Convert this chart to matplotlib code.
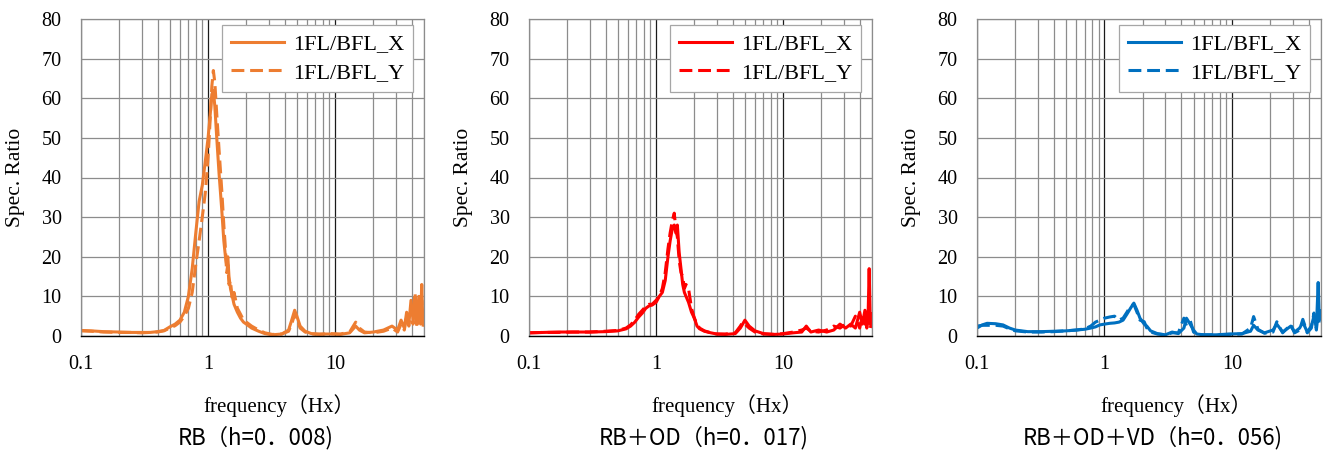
import matplotlib
matplotlib.use("Agg")
import matplotlib.pyplot as plt
from matplotlib.ticker import FixedLocator, NullFormatter

# --- datos ---
freq_rb = [0.10, 0.12, 0.15, 0.20, 0.25, 0.30, 0.35, 0.40, 0.45,
           0.50, 0.55, 0.60, 0.65, 0.70, 0.75, 0.80, 0.85, 0.90, 0.95,
           1.00, 1.04, 1.07, 1.10, 1.13, 1.17, 1.22, 1.28, 1.33, 1.37,
           1.40, 1.43, 1.46, 1.50, 1.55, 1.60, 1.70, 1.80, 1.90, 2.00,
           2.20, 2.50, 2.80, 3.20, 3.80, 4.30, 4.60, 4.80, 5.00, 5.30,
           5.80, 6.50, 7.50, 9.0, 11, 13, 14.5, 15.5, 17, 20,
           24, 28, 31, 33, 35, 36.5, 38, 39.5, 41, 42.5,
           44, 45.5, 47, 48, 49, 50]
rb_x = [1.4, 1.3, 1.1, 1.0, 0.9, 0.9, 0.9, 1.1, 1.4,
        2.3, 3.0, 4.0, 6.0, 10, 17, 26, 34, 38, 44,
        50, 56, 61, 62, 58, 50, 41, 32, 24, 20,
        18, 20, 15, 12, 10, 8, 6, 4.5, 3.5, 3.0,
        2.0, 1.2, 0.6, 0.3, 0.5, 1.5, 4.5, 6.5, 5.0, 2.5,
        1.2, 0.6, 0.5, 0.5, 0.4, 0.8, 2.5, 1.5, 0.8, 1.0,
        1.5, 2.5, 1.5, 4.0, 2.0, 6.0, 3.0, 9.0, 4.0, 8.0,
        3.0, 10, 4.0, 13, 3.0, 5.0]
rb_y = [1.3, 1.2, 1.0, 0.9, 0.9, 0.8, 0.9, 1.0, 1.3,
        2.0, 2.6, 3.5, 5.0, 7.0, 11, 18, 24, 30, 36,
        45, 55, 63, 67, 64, 56, 47, 37, 28, 22,
        16, 18, 13, 14, 9, 11, 7, 5.5, 4.0, 3.5,
        2.5, 1.5, 0.8, 0.4, 0.5, 1.2, 3.5, 5.5, 4.0, 2.0,
        1.0, 0.5, 0.4, 0.6, 0.5, 1.0, 3.5, 2.0, 1.0, 0.8,
        1.2, 2.0, 1.0, 3.0, 1.5, 5.0, 2.5, 7.0, 3.0, 11,
        2.0, 8.0, 3.0, 9.0, 2.0, 4.0]

freq_od = [0.10, 0.13, 0.17, 0.22, 0.30, 0.40, 0.50, 0.58, 0.63, 0.68,
           0.73, 0.78, 0.83, 0.88, 0.93, 1.00, 1.06, 1.12, 1.18, 1.24,
           1.29, 1.34, 1.39, 1.43, 1.47, 1.52, 1.57, 1.62, 1.67, 1.72,
           1.80, 1.90, 2.00, 2.10, 2.20, 2.40, 2.70, 3.00, 3.50, 4.20,
           4.60, 4.80, 5.00, 5.40, 6.00, 7.00, 8.5, 10, 12, 14,
           15.2, 16.5, 19, 22, 25, 28, 31, 34, 37, 40,
           42, 44, 45.5, 46.5, 47.5, 48.5, 50]
od_x = [0.8, 0.9, 1.0, 1.0, 1.0, 1.1, 1.3, 1.8, 2.5, 3.5,
        4.8, 5.8, 7.0, 7.6, 7.8, 8.5, 10, 11, 14, 20,
        24, 27, 28, 26, 28, 21, 17, 13, 11, 10,
        8.5, 6, 4.5, 2.5, 1.8, 1.2, 0.8, 0.5, 0.4, 0.6,
        2.0, 3.0, 4.0, 2.5, 1.3, 0.6, 0.4, 0.5, 0.8, 1.0,
        2.5, 1.0, 1.5, 1.0, 1.5, 3.0, 2.0, 3.0, 2.0, 6.0,
        3.0, 6.5, 2.0, 4.0, 17, 3.0, 5.5]
od_y = [0.8, 0.9, 0.9, 1.0, 1.0, 1.2, 1.4, 2.0, 2.8, 4.0,
        5.5, 6.5, 7.5, 8.0, 8.0, 9.0, 10, 12, 16, 22,
        26, 29, 31, 27, 25, 19, 16, 15, 12, 13,
        12, 7, 4.5, 3.0, 2.0, 1.3, 0.8, 0.5, 0.5, 0.8,
        2.5, 3.5, 3.0, 2.0, 1.0, 0.5, 0.4, 0.6, 1.0, 1.5,
        2.0, 1.2, 1.0, 1.5, 2.5, 2.0, 3.0, 2.5, 5.0, 2.0,
        5.0, 3.0, 6.0, 2.5, 5.0, 2.0, 4.0]

freq_vd = [0.10, 0.11, 0.12, 0.14, 0.16, 0.18, 0.20, 0.25, 0.32, 0.40,
           0.50, 0.60, 0.70, 0.78, 0.85, 0.92, 1.00, 1.10, 1.20, 1.30,
           1.40, 1.50, 1.60, 1.70, 1.80, 1.90, 2.05, 2.15, 2.30, 2.60,
           3.00, 3.40, 3.80, 4.20, 4.40, 4.70, 5.00, 5.30, 6.0, 7.5,
           9.5, 12, 14, 14.8, 16, 18, 21, 22.5, 25, 29,
           31, 34, 36, 39, 42, 44, 46, 47.5, 48.5, 50]
vd_x = [2.0, 2.8, 3.2, 3.1, 2.8, 2.0, 1.5, 1.1, 1.1, 1.2,
        1.3, 1.5, 1.7, 2.0, 2.3, 2.8, 3.0, 3.2, 3.3, 3.5,
        4.0, 5.5, 7.0, 8.3, 6.5, 4.5, 3.0, 2.5, 1.3, 0.6,
        0.3, 1.0, 0.6, 2.0, 4.5, 3.0, 1.5, 0.5, 0.3, 0.3,
        0.5, 0.6, 1.2, 2.7, 1.5, 0.8, 1.5, 3.0, 1.0, 2.5,
        1.0, 2.0, 3.5, 1.0, 2.5, 5.0, 2.0, 13.5, 4.0, 6.3]
vd_y = [2.5, 2.7, 2.7, 2.7, 2.5, 1.8, 1.3, 1.0, 1.0, 1.1,
        1.3, 1.5, 1.8, 2.5, 3.5, 4.0, 4.5, 4.8, 5.0, 4.0,
        4.5, 6.0, 7.5, 8.0, 6.0, 4.0, 3.6, 2.0, 1.0, 0.5,
        0.3, 0.8, 0.8, 4.5, 3.0, 4.0, 1.0, 0.4, 0.3, 0.3,
        0.4, 0.5, 2.0, 4.9, 1.7, 0.7, 1.0, 3.6, 0.8, 2.9,
        0.8, 1.5, 4.2, 0.8, 2.0, 5.8, 1.5, 6.0, 3.0, 5.5]

titulos = ["RB（h=0．008)", "RB＋OD（h=0．017)", "RB＋OD＋VD（h=0．056)"]
colores = ["#ED7D31", "#FF0000", "#0070C0"]
etiquetas = ["1FL/BFL_X", "1FL/BFL_Y"]
yticks = [0, 10, 20, 30, 40, 50, 60, 70, 80]
xticks = [0.1, 1, 10]
xtick_labels = ["0.1", "1", "10"]

paneles = [(freq_rb, rb_x, rb_y), (freq_od, od_x, od_y), (freq_vd, vd_x, vd_y)]

SERIF = "Liberation Serif"
W, H = 1324, 455
# posiciones en pixeles: (izquierda, ancho)
cajas = [(81, 343), (529, 343), (977, 344)]
abajo, alto = 336, 317

fig = plt.figure(figsize=(W / 100, H / 100), dpi=100)

for i, (freq, vx, vy) in enumerate(paneles):
    left, width = cajas[i]
    ax = fig.add_axes([left / W, (H - abajo) / H, width / W, alto / H])
    ax.plot(freq, vx, color=colores[i], lw=2.2, label=etiquetas[0],
            solid_joinstyle="round")
    ax.plot(freq, vy, color=colores[i], lw=2.2, ls=(0, (4.2, 1.9)),
            label=etiquetas[1])
    ax.set_xscale("log")
    ax.set_xlim(0.1, 50)
    ax.set_ylim(0, 80)
    ax.xaxis.set_major_locator(FixedLocator(xticks))
    ax.set_xticklabels(xtick_labels)
    ax.xaxis.set_minor_locator(FixedLocator(
        [m * d for d in (0.1, 1, 10) for m in range(2, 10) if m * d <= 50]))
    ax.xaxis.set_minor_formatter(NullFormatter())
    ax.set_yticks(yticks)
    ax.tick_params(which="both", length=0, labelsize=14.5)
    ax.tick_params(axis="x", pad=14)
    ax.tick_params(axis="y", pad=14)
    for lab in ax.get_xticklabels() + ax.get_yticklabels():
        lab.set_family(SERIF)

    ax.grid(which="major", axis="x", color="#1a1a1a", lw=0.9)
    ax.grid(which="minor", axis="x", color="#8c8c8c", lw=0.9)
    ax.grid(which="major", axis="y", color="#8c8c8c", lw=0.9)
    for s in ("left", "top", "right"):
        ax.spines[s].set_color("#8c8c8c")
        ax.spines[s].set_linewidth(0.9)
    ax.spines["bottom"].set_color("#000000")
    ax.spines["bottom"].set_linewidth(1.0)

    ax.set_ylabel("Spec. Ratio", family=SERIF, fontsize=15.5, va="center")
    ax.yaxis.set_label_coords(-0.19, 0.5)
    ax.set_xlabel("frequency（Hx）", family=[SERIF, "Noto Sans CJK JP"],
                  fontsize=15, va="center")
    ax.xaxis.set_label_coords(0.578, -0.221)
    ax.text(0.51, -0.322, titulos[i], transform=ax.transAxes,
            ha="center", va="center", fontsize=16,
            family=["Noto Sans CJK JP", "DejaVu Sans"])

    leg = ax.legend(loc="upper right", bbox_to_anchor=(1 - 11 / width, 1 - 6 / alto),
                    borderaxespad=0, prop={"family": SERIF, "size": 16},
                    handlelength=2.4, handletextpad=0.4, borderpad=0.4,
                    labelspacing=0.35, fancybox=False, framealpha=1)
    leg.get_frame().set_edgecolor("#a6a6a6")
    leg.get_frame().set_linewidth(0.9)

fig.savefig("out.png", dpi=100)
